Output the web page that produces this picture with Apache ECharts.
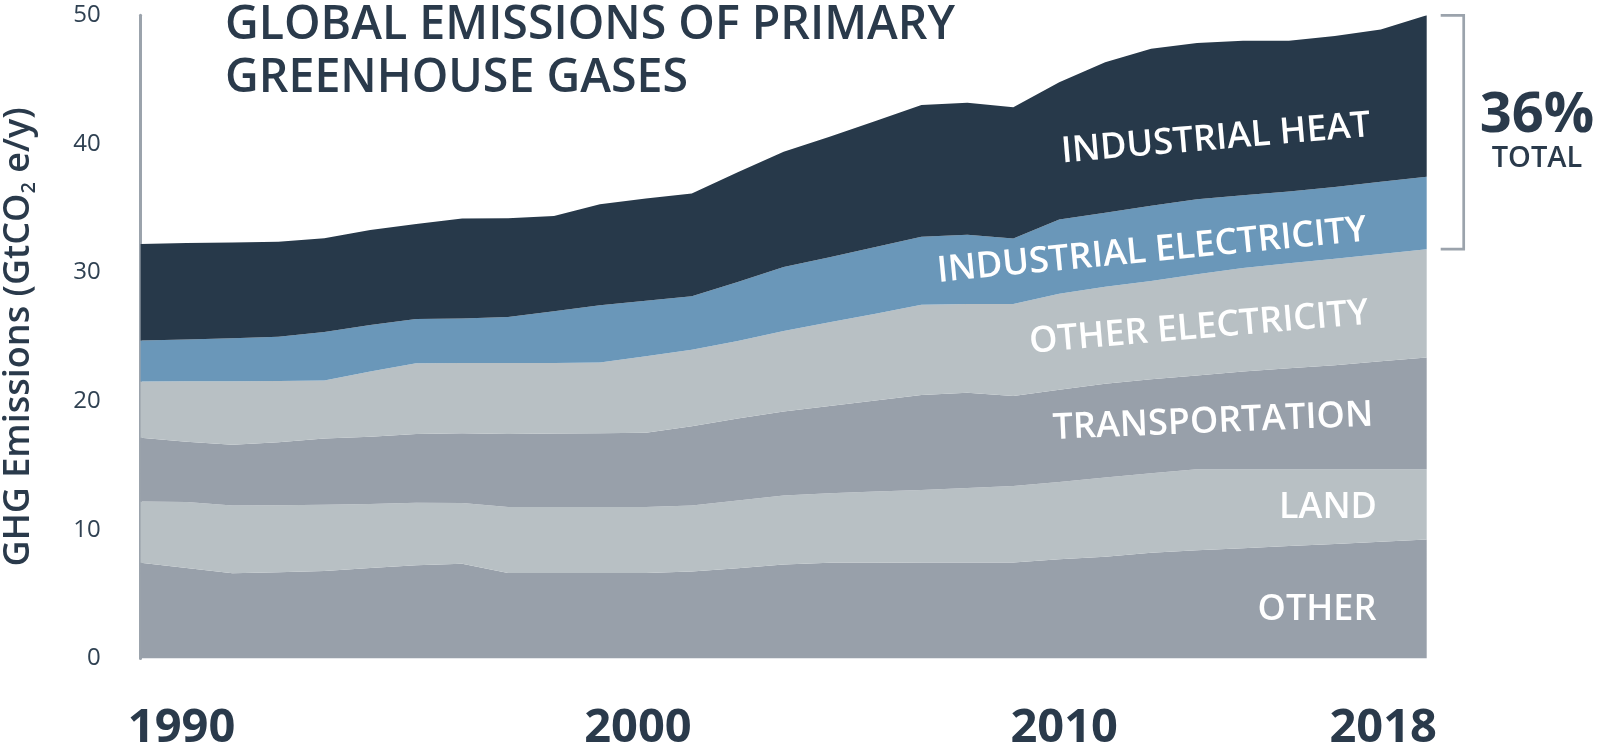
<!DOCTYPE html>
<html>
<head>
<meta charset="utf-8">
<script src="https://cdn.jsdelivr.net/npm/echarts@6/dist/echarts.min.js"></script>
<style>
  html, body { margin: 0; padding: 0; background: #ffffff; }
  #chart { width: 1598px; height: 750px; }
</style>
</head>
<body>
<div id="chart"></div>
<script>
const years = ['1990','1991','1992','1993','1994','1995','1996','1997','1998','1999','2000','2001','2002','2003','2004','2005','2006','2007','2008','2009','2010','2011','2012','2013','2014','2015','2016','2017','2018'];
const xTickLabels = ['1990', '2000', '2010', '2018'];
const yTicks = [0, 10, 20, 30, 40, 50];

const other = [7.44,7.03,6.62,6.70,6.80,7.03,7.24,7.35,6.63,6.63,6.63,6.63,6.76,7.01,7.30,7.44,7.44,7.45,7.45,7.46,7.70,7.90,8.22,8.40,8.57,8.74,8.90,9.07,9.24];
const land = [4.75,5.13,5.26,5.20,5.15,4.97,4.86,4.73,5.14,5.14,5.15,5.15,5.12,5.26,5.36,5.40,5.53,5.65,5.80,5.95,6.02,6.16,6.18,6.30,6.13,5.96,5.80,5.63,5.46];
const transportation = [4.97,4.69,4.74,4.90,5.14,5.24,5.35,5.42,5.68,5.71,5.72,5.77,6.17,6.39,6.54,6.78,7.08,7.37,7.41,6.99,7.16,7.29,7.30,7.30,7.60,7.85,8.10,8.40,8.70];
const otherElectricity = [4.36,4.70,4.93,4.77,4.51,5.06,5.50,5.46,5.51,5.48,5.50,5.95,5.95,6.01,6.25,6.51,6.74,7.03,6.89,7.15,7.47,7.55,7.65,7.87,8.05,8.17,8.28,8.35,8.42];
const industrialElectricity = [3.19,3.25,3.35,3.43,3.78,3.63,3.44,3.46,3.59,4.04,4.45,4.30,4.15,4.59,4.98,5.05,5.19,5.28,5.38,5.10,5.77,5.75,5.85,5.83,5.65,5.58,5.57,5.60,5.63];
const industrialHeat = [7.51,7.50,7.43,7.40,7.29,7.37,7.39,7.78,7.67,7.40,7.85,7.95,8.00,8.54,8.97,9.37,9.81,10.24,10.27,10.21,10.68,11.69,12.20,12.14,12.02,11.72,11.75,11.85,12.55];

const seriesNames = ['OTHER', 'LAND', 'TRANSPORTATION', 'OTHER ELECTRICITY', 'INDUSTRIAL ELECTRICITY', 'INDUSTRIAL HEAT'];
const seriesValues = [other, land, transportation, otherElectricity, industrialElectricity, industrialHeat];
const seriesColors = ['#98a0aa', '#b8c0c4', '#98a0aa', '#b8c0c4', '#6a97b9', '#27394a'];

const TEXT = '#2a3a4b';
const FONT = '"Open Sans", "Noto Sans", sans-serif';

const chart = echarts.init(document.getElementById('chart'), null, { renderer: 'canvas' });

const labelShift = { '1990': 'a', '2000': 'b', '2010': 'c', '2018': 'd' };

const option = {
  animation: false,
  backgroundColor: '#ffffff',
  title: {
    text: 'GLOBAL EMISSIONS OF PRIMARY\nGREENHOUSE GASES',
    left: 225,
    top: -1,
    padding: 0,
    textStyle: { fontFamily: FONT, fontSize: 46.5, fontWeight: 600, color: TEXT, lineHeight: 53 }
  },
  grid: { left: 140.6, right: 171.3, top: 15.3, bottom: 91.6, containLabel: false, outerBoundsMode: 'none' },
  xAxis: {
    type: 'category',
    data: years,
    boundaryGap: false,
    axisLine: { show: false },
    axisTick: { show: false },
    splitLine: { show: false },
    axisLabel: {
      interval: function (idx, val) { return xTickLabels.indexOf(val) >= 0; },
      margin: 47,
      formatter: function (val) { return '{' + labelShift[val] + '|' + val + '}'; },
      rich: {
        a: { fontFamily: FONT, fontSize: 47, fontWeight: 700, color: TEXT, padding: [0, 0, 0, 82] },
        b: { fontFamily: FONT, fontSize: 47, fontWeight: 700, color: TEXT, padding: [0, 0, 0, 76] },
        c: { fontFamily: FONT, fontSize: 47, fontWeight: 700, color: TEXT, padding: [0, 0, 0, 10] },
        d: { fontFamily: FONT, fontSize: 47, fontWeight: 700, color: TEXT, padding: [0, 87, 0, 0] }
      }
    }
  },
  yAxis: {
    type: 'value',
    min: 0,
    max: 50,
    interval: 10,
    name: '{m|GHG Emissions (GtCO}{s|2}{m| e/y)}',
    nameLocation: 'middle',
    nameGap: 101,
    nameTextStyle: {
      rich: {
        m: { fontFamily: FONT, fontSize: 36, fontWeight: 600, color: TEXT, lineHeight: 42 },
        s: { fontFamily: FONT, fontSize: 20, fontWeight: 600, color: TEXT, verticalAlign: 'bottom', lineHeight: 20 }
      }
    },
    axisLine: { show: true, lineStyle: { color: '#9ba3ac', width: 3 } },
    axisTick: { show: false },
    splitLine: { show: false },
    axisLabel: {
      margin: 40,
      fontFamily: FONT,
      fontSize: 24,
      color: '#2f4152',
      formatter: function (v) { return yTicks.indexOf(v) >= 0 ? String(v) : ''; }
    }
  },
  series: seriesNames.map(function (name, i) {
    return {
      name: name,
      type: 'line',
      stack: 'total',
      data: seriesValues[i],
      symbol: 'none',
      smooth: false,
      lineStyle: { width: 0 },
      areaStyle: { color: seriesColors[i], opacity: 1 },
      itemStyle: { color: seriesColors[i] },
      z: 2
    };
  })
};

chart.setOption(option);

// Bracket spanning industrial (electricity + heat) share in the last year
const last = years.length - 1;
let totalLast = 0, belowIndustrial = 0;
seriesValues.forEach(function (arr, i) { totalLast += arr[last]; if (i < 4) belowIndustrial += arr[last]; });
const xLast = chart.convertToPixel({ xAxisIndex: 0 }, years[last]);
const yTop = chart.convertToPixel({ yAxisIndex: 0 }, totalLast);
const yBot = chart.convertToPixel({ yAxisIndex: 0 }, belowIndustrial);
const share = Math.round((industrialElectricity[last] + industrialHeat[last]) / totalLast * 100);

function bandLabel(text, x, y, deg) {
  return {
    type: 'text', x: x, y: y, rotation: deg * Math.PI / 180, z: 10,
    style: { text: text, fill: '#ffffff', font: '600 36px ' + FONT, align: 'center', verticalAlign: 'middle' }
  };
}

chart.setOption({
  graphic: [
    {
      type: 'polyline', z: 10,
      shape: { points: [[xLast + 14, yTop], [xLast + 37, yTop], [xLast + 37, yBot], [xLast + 14, yBot]] },
      style: { stroke: '#9ba3ac', lineWidth: 2.7, fill: null }
    },
    {
      type: 'text', x: 1537, y: 116, z: 10,
      style: { text: share + '%', fill: TEXT, font: '700 56px ' + FONT, align: 'center', verticalAlign: 'middle' }
    },
    {
      type: 'text', x: 1537, y: 159, z: 10,
      style: { text: 'TOTAL', fill: TEXT, font: '600 29px ' + FONT, align: 'center', verticalAlign: 'middle' }
    },
    bandLabel('INDUSTRIAL HEAT', 1216, 139, 4.9),
    bandLabel('INDUSTRIAL ELECTRICITY', 1152, 251, 5.5),
    bandLabel('OTHER ELECTRICITY', 1199, 328, 4.9),
    bandLabel('TRANSPORTATION', 1213, 422, 2.4),
    bandLabel('LAND', 1328, 508, 0),
    bandLabel('OTHER', 1317, 610, 0)
  ]
});
</script>
</body>
</html>
